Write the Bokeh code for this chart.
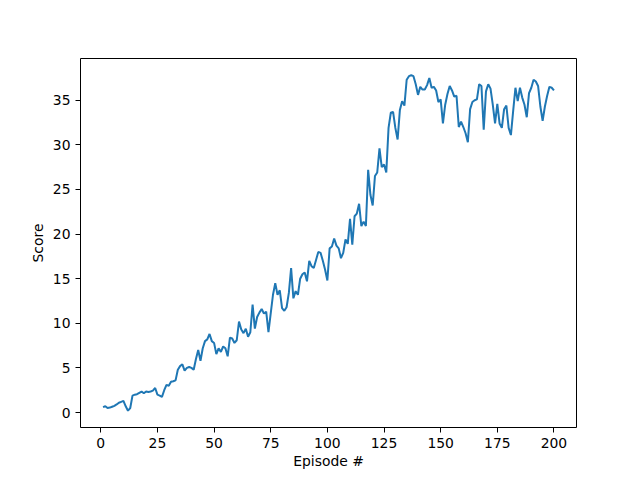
from bokeh.plotting import figure
from bokeh.models import FixedTicker, Range1d
from bokeh.embed import file_html
from bokeh.resources import INLINE

episodes = list(range(1, 201))
scores = [
    0.6, 0.7, 0.5, 0.55, 0.65, 0.75, 0.9, 1.1, 1.2, 1.3,
    0.7, 0.2, 0.5, 1.9, 2.0, 2.05, 2.2, 2.35, 2.15, 2.35,
    2.3, 2.35, 2.45, 2.75, 2.0, 1.9, 1.75, 2.5, 3.1, 3.0,
    3.45, 3.5, 3.6, 4.8, 5.2, 5.4, 4.7, 5.0, 5.1, 5.0,
    4.8, 6.0, 7.0, 5.8, 7.2, 8.0, 8.2, 8.8, 8.0, 7.8,
    6.55, 7.2, 6.8, 7.4, 7.2, 6.3, 8.4, 8.3, 7.8, 8.1,
    10.2, 9.3, 8.9, 9.4, 8.5, 9.0, 12.1, 9.4, 10.7, 11.2,
    11.6, 11.1, 11.3, 9.0, 11.1, 13.2, 14.5, 13.2, 13.7, 11.7,
    11.4, 11.8, 13.4, 16.2, 12.8, 13.6, 13.2, 15.0, 15.5, 15.7,
    14.7, 17.0, 16.4, 16.2, 17.1, 18.0, 17.9, 17.0, 16.0, 14.8,
    18.4, 18.6, 19.5, 18.7, 18.4, 17.3, 17.9, 19.4, 18.9, 21.7,
    18.8, 22.0, 22.3, 23.4, 20.9, 21.4, 20.9, 27.2, 24.4, 23.2,
    26.5, 26.9, 29.6, 27.5, 27.8, 26.9, 31.9, 33.6, 33.7, 31.9,
    30.6, 33.9, 34.9, 34.4, 37.3, 37.7, 37.8, 37.7, 36.8, 35.6,
    36.5, 36.2, 36.2, 36.7, 37.5, 36.4, 36.5, 36.1, 34.8, 35.1,
    32.4, 34.5, 35.7, 36.6, 36.1, 35.4, 35.5, 32.0, 32.6, 32.0,
    31.3, 30.3, 34.0, 34.8, 35.0, 35.1, 36.8, 36.6, 31.7, 36.0,
    36.8, 36.3, 34.5, 32.4, 34.6, 32.4, 31.9, 34.0, 34.4, 31.9,
    31.1, 33.8, 36.4, 34.9, 36.4, 35.3, 34.5, 33.1, 35.8, 36.4,
    37.3, 37.1, 36.6, 34.3, 32.7, 34.3, 35.5, 36.5, 36.4, 36.1,
]
x_ticks = [0, 25, 50, 75, 100, 125, 150, 175, 200]
y_ticks = [0, 5, 10, 15, 20, 25, 30, 35]

xmin, xmax = min(episodes), max(episodes)
ymin, ymax = min(scores), max(scores)
xm = (xmax - xmin) * 0.05
ym = (ymax - ymin) * 0.05

p = figure(
    frame_width=496, frame_height=369,
    x_range=Range1d(xmin - xm, xmax + xm),
    y_range=Range1d(ymin - ym, ymax + ym),
    output_backend="svg", toolbar_location=None,
    min_border_left=80, min_border_right=56,
    min_border_top=58, min_border_bottom=45,
    background_fill_color="white", border_fill_color="white",
)
p.line(episodes, scores, line_color="#1f77b4", line_width=2)

p.xgrid.visible = False
p.ygrid.visible = False
p.outline_line_color = "black"
p.outline_line_width = 1
p.outline_line_alpha = 1

p.xaxis.ticker = FixedTicker(ticks=x_ticks)
p.yaxis.ticker = FixedTicker(ticks=y_ticks)
p.xaxis.axis_label = "Episode #"
p.yaxis.axis_label = "Score"
for ax in (p.xaxis, p.yaxis):
    ax.axis_line_color = None
    ax.major_tick_line_color = "black"
    ax.major_tick_out = 5
    ax.major_tick_in = 0
    ax.minor_tick_line_color = None
    ax.major_label_text_font = "DejaVu Sans"
    ax.major_label_text_font_size = "13.9px"
    ax.major_label_text_color = "black"
    ax.axis_label_text_font = "DejaVu Sans"
    ax.axis_label_text_font_size = "13.9px"
    ax.axis_label_text_font_style = "normal"
    ax.axis_label_text_color = "black"
    ax.major_label_standoff = 5
p.xaxis.axis_label_standoff = 2
p.yaxis.axis_label_standoff = 4

open("out.html", "w").write(file_html(p, INLINE))
